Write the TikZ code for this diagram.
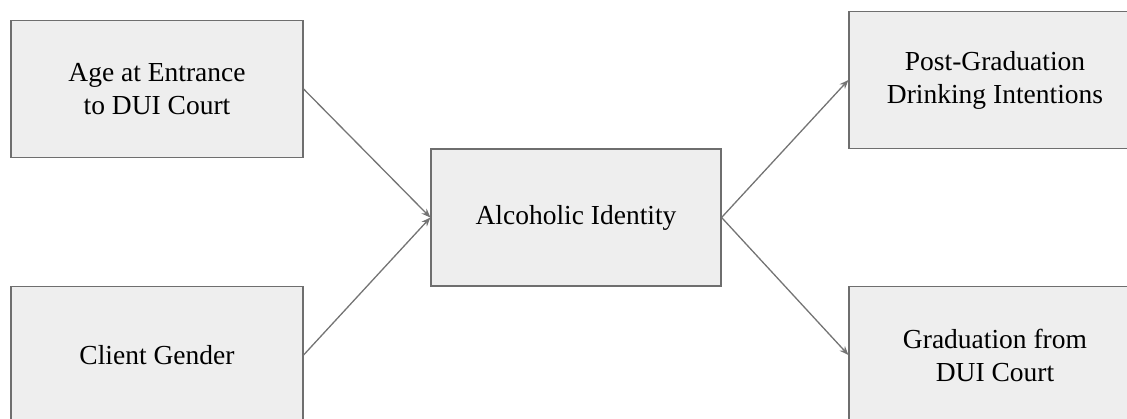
\documentclass[tikz,border=0pt]{standalone}
\usepackage{fontspec}
\setmainfont{Liberation Serif}
\usetikzlibrary{arrows.meta}
\definecolor{boxfill}{HTML}{EEEEEE}
\definecolor{boxline}{HTML}{6E6E6E}
\definecolor{arrowc}{HTML}{747474}
\tikzset{
  factor/.style={draw=boxline, line width=1.2pt, fill=boxfill, minimum width=292pt, minimum height=137pt, inner sep=0pt, align=center, font=\fontsize{27.5}{33}\selectfont},
  link/.style={draw=arrowc, line width=1.3pt, -{Stealth[length=9pt,width=7pt]}}
}
\begin{document}
\begin{tikzpicture}[x=1pt,y=-1pt]
\useasboundingbox (0,0) rectangle (1127,419);
\clip (0,0) rectangle (1127,419);
\node[factor] (age) at (157,89) {Age at Entrance\\to DUI Court};
\node[factor] (gender) at (157,355) {Client Gender};
\node[factor, minimum width=290pt] (ident) at (576,217.5) {Alcoholic Identity};
\node[factor] (post) at (995,80) {Post-Graduation\\Drinking Intentions};
\node[factor] (grad) at (995,355) {Graduation from\\DUI Court};
\draw[link] (age.east) -- (ident.west);
\draw[link] (gender.east) -- (ident.west);
\draw[link] (ident.east) -- (post.west);
\draw[link] (ident.east) -- (grad.west);
\end{tikzpicture}
\end{document}
